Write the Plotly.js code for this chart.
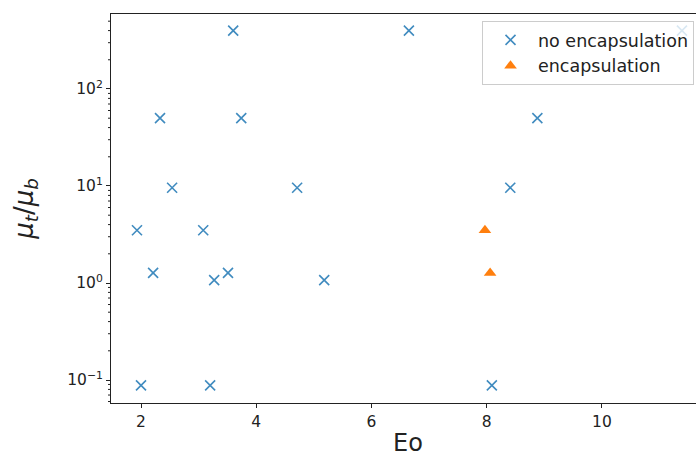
<!DOCTYPE html>
<html>
<head>
<meta charset="utf-8">
<script src="https://cdn.plot.ly/plotly-3.0.1.min.js"></script>
<style>
html, body { margin: 0; padding: 0; overflow: hidden; background: #fff; }
#chart { width: 705px; height: 463px; }
</style>
</head>
<body>
<div id="chart"></div>
<script>
// Data
const noEncEo = [1.93, 2.0, 2.21, 2.33, 2.54, 3.08, 3.2, 3.27, 3.51, 3.6, 3.74, 4.71, 5.18, 6.65, 8.09, 8.41, 8.88, 11.39];
const noEncMu = [3.5, 0.088, 1.27, 50, 9.6, 3.5, 0.088, 1.07, 1.27, 400, 50, 9.6, 1.07, 400, 0.088, 9.6, 50, 400];
const encEo = [7.97, 8.06];
const encMu = [3.5, 1.27];
const seriesNames = ["no encapsulation", "encapsulation"];
const yTickVals = [0.1, 1, 10, 100];
const yTickText = ["10<sup>−1</sup>", "10<sup>0</sup>", "10<sup>1</sup>", "10<sup>2</sup>"];
const yMinorTickVals = [0.06, 0.07, 0.08, 0.09, 0.2, 0.3, 0.4, 0.5, 0.6, 0.7, 0.8, 0.9,
  2, 3, 4, 5, 6, 7, 8, 9, 20, 30, 40, 50, 60, 70, 80, 90, 200, 300, 400, 500];
const xTickVals = [2, 4, 6, 8, 10];

const yRange = [-1.237, 2.773];
const plotW = 705 - 111;

const traces = [
  {
    x: noEncEo, y: noEncMu, type: "scatter", mode: "markers", name: seriesNames[0],
    marker: { symbol: "x-thin-open", size: 10, color: "rgba(31,119,180,0.85)", line: { width: 1.6, color: "rgba(31,119,180,0.85)" } }
  },
  {
    x: encEo, y: encMu, type: "scatter", mode: "markers", name: seriesNames[1],
    marker: { symbol: "triangle-up", size: 11, color: "#ff7f0e", line: { width: 0 } }
  }
];

// minor log ticks on the left spine, built from the tick-value array
const minorTickShapes = yMinorTickVals.map(v => ({
  type: "line", xref: "paper", yref: "y",
  x0: -3 / plotW, x1: 0, y0: v, y1: v,
  line: { color: "#222", width: 1 }, layer: "above"
}));

const layout = {
  width: 705, height: 463,
  margin: { l: 111, r: 0, t: 14, b: 60 },
  paper_bgcolor: "#fff", plot_bgcolor: "#fff",
  font: { family: "DejaVu Sans", size: 15.5, color: "#222" },
  showlegend: true,
  legend: {
    x: 0.6246, y: 0.982, xanchor: "left", yanchor: "top",
    bordercolor: "#cccccc", borderwidth: 1, bgcolor: "rgba(255,255,255,0.8)",
    font: { family: "DejaVu Sans", size: 17.5, color: "#222" },
    itemwidth: 45, tracegroupgap: 0
  },
  shapes: minorTickShapes,
  xaxis: {
    range: [1.479, 11.79], tickvals: xTickVals,
    showgrid: false, zeroline: false,
    showline: true, mirror: true, linecolor: "#222", linewidth: 1,
    ticks: "outside", ticklen: 4, tickcolor: "#222",
    tickfont: { size: 15.5 },
    title: { text: "Eo", font: { size: 24, family: "DejaVu Sans" }, standoff: 4 }
  },
  yaxis: {
    type: "log", range: yRange,
    tickvals: yTickVals, ticktext: yTickText,
    showgrid: false, zeroline: false,
    showline: true, mirror: true, linecolor: "#222", linewidth: 1,
    ticks: "outside", ticklen: 4, tickcolor: "#222",
    tickfont: { size: 15.5 },
    title: { text: "<i>μ<sub>t</sub></i>/<i>μ<sub>b</sub></i>", font: { size: 26, family: "DejaVu Sans" }, standoff: 26 }
  }
};

Plotly.newPlot("chart", traces, layout, { displayModeBar: false, staticPlot: true });
</script>
</body>
</html>
